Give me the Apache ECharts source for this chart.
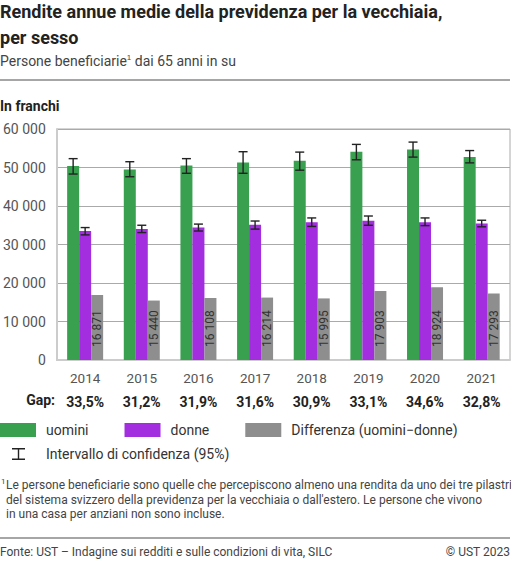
<!DOCTYPE html>
<html>
<head>
<meta charset="utf-8">
<script src="https://cdn.jsdelivr.net/npm/echarts@6/dist/echarts.min.js"></script>
<style>
  html, body { margin: 0; padding: 0; background: #fff; }
  #chart { width: 511px; height: 562px; }
</style>
</head>
<body>
<div id="chart"></div>
<script>
const years = ['2014', '2015', '2016', '2017', '2018', '2019', '2020', '2021']
const men = [50360, 49490, 50500, 51310, 51760, 54090, 54690, 52720]
const women = [33490, 34050, 34390, 35100, 35770, 36190, 35770, 35430]
const diff = [16871, 15440, 16108, 16214, 15995, 17903, 18924, 17293]
const gapLabels = ['33,5%', '31,2%', '31,9%', '31,6%', '30,9%', '33,1%', '34,6%', '32,8%']
const menLow = [48300, 47600, 48500, 48500, 49300, 52000, 52700, 51200]
const menHigh = [52300, 51500, 52300, 54100, 54000, 56000, 56600, 54400]
const womenLow = [32500, 33100, 33500, 34000, 34700, 35000, 34900, 34600]
const womenHigh = [34400, 35000, 35300, 36100, 36900, 37400, 36900, 36300]

const FONT = 'Roboto, "Noto Sans", sans-serif'
const CI = 'Intervallo di confidenza (95%)'

const fmt = v => String(v).replace(/\B(?=(\d{3})+(?!\d))/g, ' ')

// draws the I-shaped whisker next to a bar, shifted by offset px
const whisker = offset => (params, api) => {
  const i = api.value(0)
  const lo = api.coord([i, api.value(1)])
  const hi = api.coord([i, api.value(2)])
  const x = lo[0] + offset
  const cap = 4.5
  const style = { stroke: '#222', lineWidth: 1.4 }
  return {
    type: 'group',
    children: [
      { type: 'line', shape: { x1: x, y1: hi[1], x2: x, y2: lo[1] }, style },
      { type: 'line', shape: { x1: x - cap, y1: hi[1], x2: x + cap, y2: hi[1] }, style },
      { type: 'line', shape: { x1: x - cap, y1: lo[1], x2: x + cap, y2: lo[1] }, style },
    ],
  }
}

const text = (x, y, t, extra) => ({
  type: 'text', x, y,
  style: Object.assign({ text: t, fontFamily: FONT, fontSize: 13, fill: '#444', verticalAlign: 'middle' }, extra),
})

const chart = echarts.init(document.getElementById('chart'), null, { renderer: 'svg' })
chart.setOption({
  animation: false,
  textStyle: { fontFamily: FONT },
  grid: { left: 54, right: 1, top: 129, bottom: 202, show: true, borderColor: '#aaa', borderWidth: 1 },
  xAxis: [
    {
      type: 'category', data: years,
      axisLine: { lineStyle: { color: '#ccc', width: 2 } },
      axisTick: { show: false },
      axisLabel: { color: '#555', fontSize: 13.5, margin: 11 },
    },
    {
      type: 'category', data: gapLabels, position: 'bottom', offset: 24,
      axisLine: { show: false }, axisTick: { show: false },
      axisLabel: { color: '#222', fontSize: 14, fontWeight: 'bold', margin: 11 },
    },
  ],
  yAxis: {
    type: 'value', min: 0, max: 60000, interval: 10000,
    axisLine: { show: true, lineStyle: { color: '#ccc', width: 2 } },
    splitLine: { lineStyle: { color: '#aaa', width: 1 } },
    axisLabel: { color: '#555', fontSize: 14, margin: 11, formatter: fmt },
  },
  legend: [
    {
      data: ['uomini', 'donne', 'Differenza (uomini−donne)'],
      left: 0, top: 423, padding: 0,
      itemWidth: 36, itemHeight: 14, itemGap: 36,
      icon: 'rect',
      textStyle: { fontSize: 14, color: '#333', padding: [0, 0, 0, 5] },
    },
    {
      data: [CI],
      left: 0, top: 447, padding: 0,
      itemWidth: 36, itemHeight: 12,
      icon: 'path://M0,0L0,0ZM36,12L36,12ZM12,0h13v1.4h-5.8v9.2h5.8v1.4h-13v-1.4h5.8v-9.2h-5.8z',
      textStyle: { fontSize: 14, color: '#333', padding: [0, 0, 0, 5] },
    },
  ],
  series: [
    {
      name: 'uomini', type: 'bar', data: men, barWidth: 12, barGap: '0%',
      itemStyle: { color: '#38a04f' },
    },
    {
      name: 'donne', type: 'bar', data: women, barWidth: 12, barGap: '0%',
      itemStyle: { color: '#a22ee0' },
    },
    {
      name: 'Differenza (uomini−donne)', type: 'bar', data: diff, barWidth: 12, barGap: '0%',
      itemStyle: { color: '#8e8e8e' },
      label: {
        show: true, position: 'insideBottom', rotate: 90, align: 'left', verticalAlign: 'middle',
        distance: 13, color: '#333', fontSize: 12, formatter: p => fmt(p.value),
      },
    },
    {
      name: CI, type: 'custom', renderItem: whisker(-12), itemStyle: { color: '#222' },
      encode: { x: 0, y: [1, 2] }, z: 5,
      data: years.map((y, i) => [i, menLow[i], menHigh[i]]),
    },
    {
      name: CI, type: 'custom', renderItem: whisker(0), itemStyle: { color: '#222' },
      encode: { x: 0, y: [1, 2] }, z: 5,
      data: years.map((y, i) => [i, womenLow[i], womenHigh[i]]),
    },
  ],
  graphic: [
    text(0, 11, 'Rendite annue medie della previdenza per la vecchiaia,', { fontSize: 18, fontWeight: 'bold', fill: '#222' }),
    text(0, 37, 'per sesso', { fontSize: 18, fontWeight: 'bold', fill: '#222' }),
    {
      type: 'text', x: 0, y: 61,
      style: {
        text: 'Persone beneficiarie{s|1} dai 65 anni in su', fontFamily: FONT, fontSize: 14, fill: '#444',
        verticalAlign: 'middle', rich: { s: { fontSize: 8, verticalAlign: 'top', fill: '#444', padding: [0, 0, 7, 0] } },
      },
    },
    { type: 'line', shape: { x1: 0, y1: 80, x2: 510, y2: 80 }, style: { stroke: '#888', lineWidth: 1.5 } },
    text(0, 106, 'In franchi', { fontSize: 14, fontWeight: 'bold', fill: '#222' }),
    text(55, 400, 'Gap:', { fontSize: 14, fontWeight: 'bold', fill: '#222', align: 'right' }),
    text(1, 481, '1', { fontSize: 8 }),
    text(6, 485, 'Le persone beneficiarie sono quelle che percepiscono almeno una rendita da uno dei tre pilastri', { fontSize: 12 }),
    text(6, 500, "del sistema svizzero della previdenza per la vecchiaia o dall'estero. Le persone che vivono", { fontSize: 12 }),
    text(6, 514, 'in una casa per anziani non sono incluse.', { fontSize: 12 }),
    { type: 'line', shape: { x1: 0, y1: 538, x2: 510, y2: 538 }, style: { stroke: '#888', lineWidth: 1.5 } },
    text(0, 552, 'Fonte: UST – Indagine sui redditi e sulle condizioni di vita, SILC', { fontSize: 12 }),
    text(510, 552, '© UST 2023', { fontSize: 12, align: 'right' }),
  ],
})
</script>
</body>
</html>
